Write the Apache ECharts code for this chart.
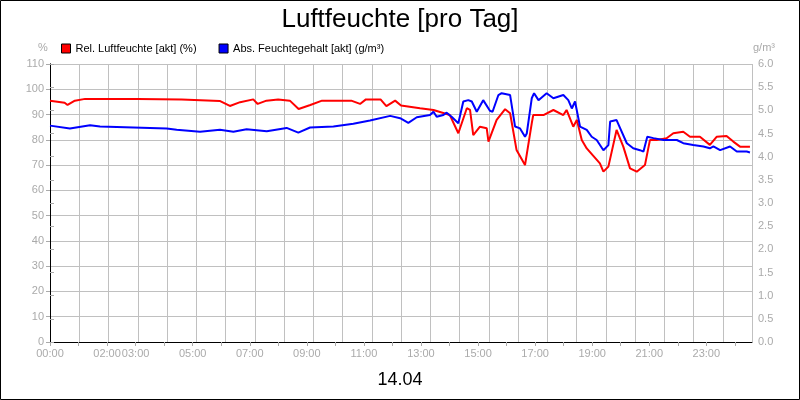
<!DOCTYPE html><html><head><meta charset="utf-8"><script src="https://cdn.jsdelivr.net/npm/echarts@6/dist/echarts.min.js"></script></head><body style="margin:0"><div id="c" style="width:800px;height:400px"></div><script>
const tickLabels={0:'00:00',2:'02:00',3:'03:00',5:'05:00',7:'07:00',9:'09:00',11:'11:00',13:'13:00',15:'15:00',17:'17:00',19:'19:00',21:'21:00',23:'23:00'};
const relHum=[[0,95.5],[0.5,94.7],[0.6,93.8],[0.85,95.5],[1.2,96.2],[3,96.2],[4.5,96],[5.8,95.4],[6.15,93.4],[6.5,94.9],[6.95,96],[7.1,94.2],[7.4,95.5],[7.8,96],[8.2,95.5],[8.5,92.2],[8.9,93.8],[9.3,95.5],[10.3,95.5],[10.6,94.2],[10.8,96],[11.3,96],[11.5,93.3],[11.8,95.5],[12.0,93.6],[12.65,92.5],[13.11,91.8],[13.67,89.8],[13.96,82.6],[14.25,92.5],[14.36,91.8],[14.47,81.9],[14.70,85.2],[14.93,84.6],[14.99,79.3],[15.27,87.9],[15.56,92.1],[15.73,90.5],[15.95,76],[16.24,70],[16.47,86.5],[16.52,89.8],[16.87,89.8],[17.21,91.8],[17.55,89.8],[17.66,91.8],[17.89,85.2],[18.01,87.9],[18.18,79.9],[18.35,76.6],[18.80,70.7],[18.92,67.4],[19.09,69.4],[19.37,83.9],[19.60,77.3],[19.83,68.7],[20.06,67.4],[20.34,70],[20.51,79.9],[20.74,79.9],[21.08,80.6],[21.31,82.6],[21.65,83.2],[21.88,81.2],[22.22,81.2],[22.56,78],[22.79,81.2],[23.13,81.5],[23.36,79.3],[23.59,77.3],[23.93,77.3]];
const absHum=[[0,4.67],[0.68,4.61],[1.37,4.68],[1.71,4.65],[3.99,4.61],[4.33,4.58],[5.13,4.54],[5.81,4.58],[6.27,4.54],[6.72,4.59],[7.41,4.55],[8.09,4.62],[8.49,4.52],[8.89,4.63],[9.69,4.65],[10.37,4.71],[10.94,4.78],[11.63,4.88],[11.97,4.83],[12.25,4.73],[12.54,4.85],[12.99,4.90],[13.11,4.97],[13.22,4.86],[13.45,4.90],[13.56,4.95],[13.73,4.86],[13.96,4.72],[14.02,4.72],[14.13,5.19],[14.30,5.22],[14.42,5.19],[14.59,4.97],[14.81,5.22],[14.87,5.26],[15.04,4.99],[15.13,4.97],[15.33,5.33],[15.44,5.37],[15.73,5.33],[15.90,4.65],[16.07,4.61],[16.24,4.43],[16.30,4.50],[16.47,5.26],[16.55,5.37],[16.70,5.22],[16.98,5.37],[17.21,5.26],[17.55,5.33],[17.72,5.22],[17.84,5.04],[17.95,5.19],[18.12,4.65],[18.35,4.58],[18.52,4.43],[18.69,4.36],[18.92,4.14],[19.09,4.25],[19.15,4.76],[19.37,4.79],[19.72,4.29],[19.94,4.18],[20.17,4.14],[20.29,4.11],[20.42,4.43],[20.63,4.40],[20.97,4.36],[21.43,4.36],[21.65,4.29],[21.99,4.25],[22.34,4.22],[22.56,4.18],[22.68,4.22],[22.91,4.14],[23.25,4.22],[23.48,4.11],[23.82,4.11],[23.93,4.09]];
const F='Arial, Liberation Sans, sans-serif';
const c=echarts.init(document.getElementById('c'));
c.setOption({animation:false,backgroundColor:'#fff',
title:[{text:'Luftfeuchte [pro Tag]',left:'center',top:2,textStyle:{fontFamily:F,fontSize:26,fontWeight:'normal',color:'#000'}},
{text:'14.04',left:'center',top:366,textStyle:{fontFamily:F,fontSize:18,fontWeight:'normal',color:'#000'}}],
graphic:[{type:'rect',shape:{x:0.5,y:0.5,width:799,height:399},style:{fill:'none',stroke:'#000',lineWidth:1}},
{type:'text',left:38,top:42,style:{text:'%',fill:'#aaa',font:'11px '+F}},
{type:'text',left:753,top:42,style:{text:'g/m³',fill:'#aaa',font:'11px '+F}}],
legend:{left:56,top:38,itemWidth:9,itemHeight:9,itemGap:22,icon:'rect',textStyle:{fontFamily:F,fontSize:11,color:'#000'},
data:[{name:'Rel. Luftfeuchte [akt] (%)',itemStyle:{borderColor:'#000',borderWidth:1}},{name:'Abs. Feuchtegehalt [akt] (g/m³)',itemStyle:{borderColor:'#000',borderWidth:1}}]},
grid:{left:50,right:48,top:64,bottom:58},
xAxis:[{type:'value',min:0,max:24,interval:1,axisLine:{lineStyle:{color:'#000'}},axisTick:{show:false},axisLabel:{show:false},splitLine:{lineStyle:{color:'#c0c0c0'}}},
{type:'value',position:'bottom',min:0,max:24.6,interval:1,axisLine:{show:false},axisTick:{show:true,length:4,inside:false,lineStyle:{color:'#aaa'}},splitLine:{show:false},
axisLabel:{fontFamily:F,fontSize:11,color:'#aaa',margin:6,showMaxLabel:false,formatter:v=>tickLabels[v]||''}}],
yAxis:[{type:'value',min:0,max:110,interval:10,axisLine:{show:true,lineStyle:{color:'#000'}},axisTick:{show:true,length:4,lineStyle:{color:'#aaa'}},axisLabel:{fontFamily:F,fontSize:11,color:'#aaa',margin:6},splitLine:{lineStyle:{color:'#c0c0c0'}}},
{type:'value',min:0,max:6,interval:0.5,axisLine:{show:true,lineStyle:{color:'#000'}},axisTick:{show:true,length:4,lineStyle:{color:'#aaa'}},axisLabel:{fontFamily:F,fontSize:11,color:'#aaa',margin:6,formatter:v=>v.toFixed(1)},splitLine:{show:false}}],
series:[{name:'Rel. Luftfeuchte [akt] (%)',type:'line',xAxisIndex:0,yAxisIndex:0,data:relHum,showSymbol:false,color:'#ff0000',lineStyle:{width:2}},
{name:'Abs. Feuchtegehalt [akt] (g/m³)',type:'line',xAxisIndex:0,yAxisIndex:1,data:absHum,showSymbol:false,color:'#0000ff',lineStyle:{width:2}}]});
</script></body></html>
